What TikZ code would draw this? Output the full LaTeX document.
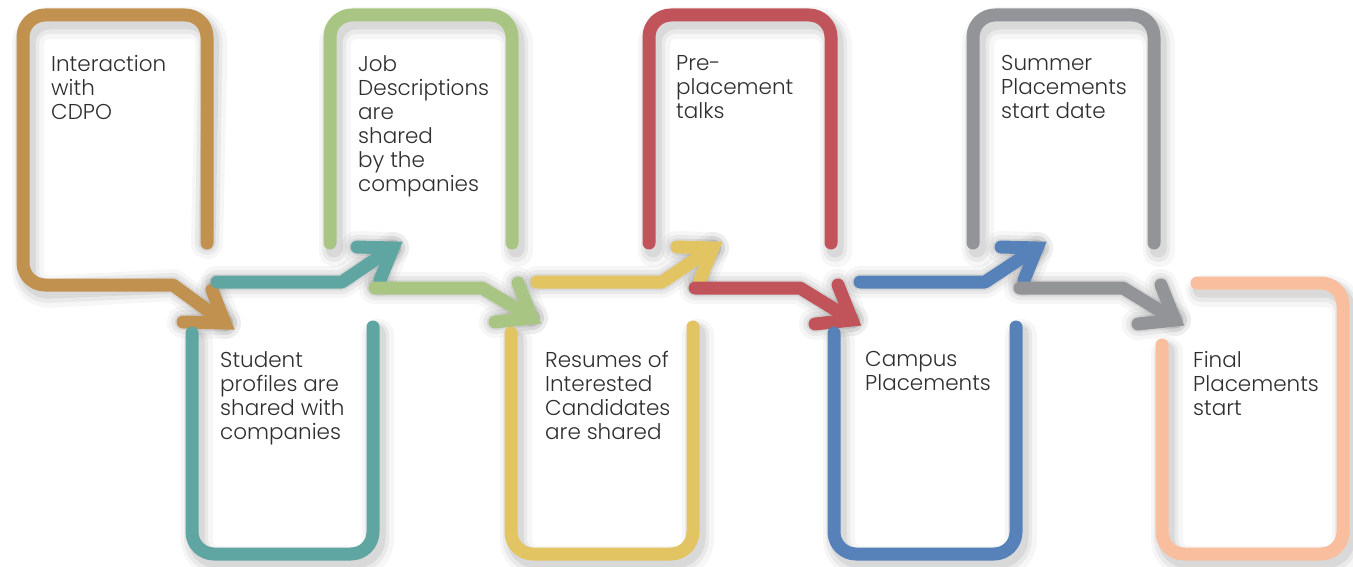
\documentclass[tikz,border=0pt]{standalone}
\usepackage{fontspec}
\setmainfont{Poppins Light}
\usetikzlibrary{calc}
\definecolor{cbrown}{HTML}{C1914F}
\definecolor{cteal}{HTML}{5FA5A2}
\definecolor{cgreen}{HTML}{A9C583}
\definecolor{cyellow}{HTML}{E3C462}
\definecolor{cred}{HTML}{C1535A}
\definecolor{cblue}{HTML}{5682B9}
\definecolor{cgray}{HTML}{939498}
\definecolor{cpeach}{HTML}{F9BE9D}
\definecolor{ctext}{HTML}{2E2E2E}
\begin{document}
\begin{tikzpicture}[x=1bp,y=-1bp,
  band/.style={line width=13bp, line cap=round, line join=round, rounded corners=22bp},
  shaft/.style={line width=13bp, line cap=round, line join=round},
  head/.style={line width=13bp, line cap=round, line join=miter, miter limit=10},
  shA/.style={draw=black, opacity=0.035, line width=32bp, line cap=round, line join=round, shift={(5,8)}},
  shB/.style={draw=black, opacity=0.05, line width=24bp, line cap=round, line join=round, shift={(4,7)}},
  shC/.style={draw=black, opacity=0.07, line width=17bp, line cap=round, line join=round, shift={(4,6)}},
  lbl/.style={anchor=north west, inner sep=0pt, align=left, text=ctext,
    font=\fontsize{21.5bp}{24bp}\selectfont}]
\useasboundingbox (0,0) rectangle (1353,567);
% ---- coordinates
\coordinate (brS) at (207,243);
\coordinate (brB) at (173,285);
\coordinate (brT) at (225,323);
\coordinate (teS) at (217,282); \coordinate (teB) at (342,282); \coordinate (teT) at (393,248);
\coordinate (grS) at (375,288); \coordinate (grB) at (482,288); \coordinate (grT) at (532,318);
\coordinate (yeS) at (537,282); \coordinate (yeB) at (662,282); \coordinate (yeT) at (713,248);
\coordinate (reS) at (695,288); \coordinate (reB) at (800,288); \coordinate (reT) at (852,320);
\coordinate (blS) at (860,282); \coordinate (blB) at (985,282); \coordinate (blT) at (1037,248);
\coordinate (gaS) at (1020,288); \coordinate (gaB) at (1123,288); \coordinate (gaT) at (1175,320);
% ---- shadows
\foreach \s in {shA,shB,shC}{
  \draw[\s, rounded corners=22bp] (brS) -- (207,15) -- (23,15) -- (23,285) [sharp corners] -- (brB) -- (brT);
  \draw[\s] ($(brT)+(-42,-1)$) -- (brT) -- ($(brT)+(-13,-33)$);
  \draw[\s, rounded corners=22bp] (330,243) -- (330,15) -- (512,15) -- (512,243);
  \draw[\s, rounded corners=22bp] (649,243) -- (649,15) -- (831,15) -- (831,243);
  \draw[\s, rounded corners=22bp] (973,243) -- (973,15) -- (1154,15) -- (1154,243);
  \draw[\s, rounded corners=22bp] (192,333) -- (192,554) -- (373,554) -- (373,327);
  \draw[\s, rounded corners=22bp] (511,333) -- (511,554) -- (693,554) -- (693,327);
  \draw[\s, rounded corners=22bp] (834,333) -- (834,554) -- (1016,554) -- (1016,327);
  \draw[\s, rounded corners=22bp] (1162,345) -- (1162,554) -- (1343,554) -- (1343,283) -- (1197,283);
  \foreach \a in {te,ye,bl}{
    \draw[\s] (\a S) -- (\a B) -- (\a T);
    \draw[\s] ($(\a T)+(-36,-1)$) -- (\a T) -- ($(\a T)+(-13,32)$);}
  \foreach \a in {gr,re,ga}{
    \draw[\s] (\a S) -- (\a B) -- (\a T);
    \draw[\s] ($(\a T)+(-37,4)$) -- (\a T) -- ($(\a T)+(-14,-35)$);}
}
% ---- step 1 brown
\draw[band, cbrown] (brS) -- (207,15) -- (23,15) -- (23,285) [sharp corners] -- (brB) -- ($(brT)+(-7,-5)$);
\draw[head, cbrown] ($(brT)+(-42,-1)$) -- (brT) -- ($(brT)+(-13,-33)$);
% ---- step 2 teal
\draw[band, cteal] (192,333) -- (192,554) -- (373,554) -- (373,327);
\draw[shaft, cteal] (teS) -- (teB) -- ($(teT)+(-8,5)$);
\draw[head, cteal] ($(teT)+(-36,-1)$) -- (teT) -- ($(teT)+(-13,32)$);
% ---- step 3 green
\draw[band, cgreen] (330,243) -- (330,15) -- (512,15) -- (512,243);
\draw[shaft, cgreen] (grS) -- (grB) -- ($(grT)+(-8,-5)$);
\draw[head, cgreen] ($(grT)+(-37,4)$) -- (grT) -- ($(grT)+(-14,-35)$);
% ---- step 4 yellow
\draw[band, cyellow] (511,333) -- (511,554) -- (693,554) -- (693,327);
\draw[shaft, cyellow] (yeS) -- (yeB) -- ($(yeT)+(-8,5)$);
\draw[head, cyellow] ($(yeT)+(-36,-1)$) -- (yeT) -- ($(yeT)+(-13,32)$);
% ---- step 5 red
\draw[band, cred] (649,243) -- (649,15) -- (831,15) -- (831,243);
\draw[shaft, cred] (reS) -- (reB) -- ($(reT)+(-8,-5)$);
\draw[head, cred] ($(reT)+(-37,4)$) -- (reT) -- ($(reT)+(-14,-35)$);
% ---- step 6 blue
\draw[band, cblue] (834,333) -- (834,554) -- (1016,554) -- (1016,327);
\draw[shaft, cblue] (blS) -- (blB) -- ($(blT)+(-8,5)$);
\draw[head, cblue] ($(blT)+(-36,-1)$) -- (blT) -- ($(blT)+(-13,32)$);
% ---- step 7 gray
\draw[band, cgray] (973,243) -- (973,15) -- (1154,15) -- (1154,243);
\draw[shaft, cgray] (gaS) -- (gaB) -- ($(gaT)+(-8,-5)$);
\draw[head, cgray] ($(gaT)+(-37,4)$) -- (gaT) -- ($(gaT)+(-14,-35)$);
% ---- step 8 peach
\draw[band, cpeach] (1162,345) -- (1162,554) -- (1343,554) -- (1343,283) -- (1197,283);
% ---- labels
\node[lbl] (t1) at (51,55) {Interaction\\with\\CDPO};
\node[lbl] (t2) at (358,55) {Job\\Descriptions\\are\\shared\\by the\\companies};
\node[lbl] (t3) at (676,55) {Pre-\\placement\\talks};
\node[lbl] (t4) at (1001,55) {Summer\\Placements\\start date};
\node[lbl] (b1) at (220,351) {Student\\profiles are\\shared with\\companies};
\node[lbl] (b2) at (545,351) {Resumes of\\Interested\\Candidates\\are shared};
\node[lbl] (b3) at (865,351) {Campus\\Placements};
\node[lbl] (b4) at (1193,351) {Final\\Placements\\start};
\end{tikzpicture}
\end{document}
